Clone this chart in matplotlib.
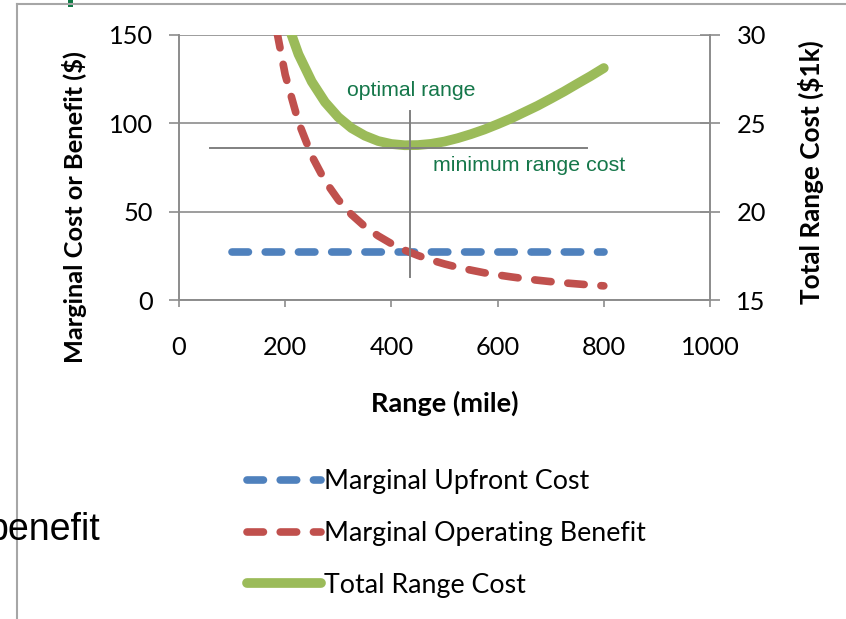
import matplotlib
matplotlib.use("Agg")
import matplotlib.pyplot as plt
from matplotlib.lines import Line2D
from matplotlib.patches import Rectangle

# ranges in miles
range_mi = [100, 125, 150, 175, 200, 225, 250, 275, 300, 325, 350, 375, 400, 425, 450,
            475, 500, 525, 550, 575, 600, 625, 650, 675, 700, 725, 750, 775, 800]

# marginal upfront cost ($ per mile), flat
upfront_cost = [27.4] * len(range_mi)

# marginal operating benefit ($ per mile)
operating_benefit = [510.0, 326.4, 226.7, 166.5, 127.5, 100.7, 81.6, 67.4, 56.7, 48.3, 41.6,
                     36.3, 31.9, 28.2, 25.2, 22.6, 20.4, 18.5, 16.9, 15.4, 14.2, 13.1, 12.1,
                     11.2, 10.4, 9.7, 9.1, 8.5, 8.0]

# total range cost ($1k)
total_cost = [53.3, 43.9, 38.0, 33.91, 31.02, 28.91, 27.36, 26.20, 25.35, 24.73, 24.30,
              24.00, 23.83, 23.76, 23.77, 23.84, 23.97, 24.16, 24.39, 24.65, 24.95, 25.27,
              25.63, 25.99, 26.39, 26.80, 27.24, 27.67, 28.13]

# optimum marker
opt_range = 435
min_cost = 23.6

x_ticks = [0, 200, 400, 600, 800, 1000]
left_ticks = [0, 50, 100, 150]
right_ticks = [15, 20, 25, 30]

blue = '#4F81BD'
red = '#C0504D'
green = '#9BBB59'
note_green = '#15774A'
axis_gray = '#8C8C8C'
font = 'Lato'
tick_size = 18.3

plt.rcParams['font.family'] = [font, 'DejaVu Sans']

fig = plt.figure(figsize=(8.46, 6.19), dpi=100)
ax = fig.add_axes([179/846, 1 - 300/619, (710-179)/846, (300-35)/619])
ax2 = ax.twinx()

ax.set_xlim(0, 1000)
ax.set_ylim(0, 150)
ax2.set_ylim(15, 30)

ax.plot(range_mi, upfront_cost, color=blue, lw=5.5, dashes=(2.15, 2.2),
        dash_capstyle='round', solid_capstyle='round', zorder=3)
ax.plot(range_mi, operating_benefit, color=red, lw=5.5, dashes=(2.15, 2.2),
        dash_capstyle='round', zorder=3)
ax2.plot(range_mi, total_cost, color=green, lw=7, solid_capstyle='round', zorder=3)

# crosshair at the optimum (drawn on the right-hand scale)
ax2.plot([58, 768], [min_cost, min_cost], color='#808080', lw=1.4, zorder=5)
ax2.plot([opt_range, opt_range], [16.3, 25.7], color='#808080', lw=1.4, zorder=5)

ax2.text(316, 26.85, 'optimal range', color=note_green, fontsize=15.3,
         family='Liberation Sans', va='center', ha='left')
ax2.text(478, 22.6, 'minimum range cost', color=note_green, fontsize=15.4,
         family='Liberation Sans', va='center', ha='left')

# axes styling
ax.set_xticks(x_ticks)
ax.set_yticks(left_ticks)
ax2.set_yticks(right_ticks)
ax.yaxis.grid(True, color=axis_gray, lw=1.2)
ax.set_axisbelow(True)
for a in (ax, ax2):
    for s in a.spines.values():
        s.set_color(axis_gray)
        s.set_linewidth(1.2)
    a.spines['top'].set_visible(False)
ax.tick_params(axis='y', direction='out', length=7, width=1.2, color=axis_gray,
               labelsize=tick_size, pad=12)
ax.tick_params(axis='x', direction='out', length=5, width=1.2, color=axis_gray,
               labelsize=tick_size, pad=21)
ax2.tick_params(axis='y', direction='inout', length=14, width=1.2, color=axis_gray,
                labelsize=tick_size, pad=12)

ax.set_xlabel('Range (mile)', fontsize=19.5, fontweight='bold')
ax.set_ylabel('Marginal Cost or Benefit ($)', fontsize=18.3, fontweight='bold')
ax2.set_ylabel('Total Range Cost ($1k)', fontsize=18.8, fontweight='bold')
ax.xaxis.set_label_coords(0.5, -(391-300)/265)
ax.yaxis.set_label_coords(-(179-87)/531, (300-207)/265)
ax2.yaxis.set_label_coords((798-179)/531, (300-172.5)/265)

handles = [
    Line2D([], [], color=blue, lw=5.5, dashes=(2.15, 2.2), dash_capstyle='round'),
    Line2D([], [], color=red, lw=5.5, dashes=(2.15, 2.2), dash_capstyle='round'),
    Line2D([], [], color=green, lw=7, solid_capstyle='round'),
]
labels = ['Marginal Upfront Cost', 'Marginal Operating Benefit', 'Total Range Cost']
fig.legend(handles, labels, loc='upper left', bbox_to_anchor=(223/846, 1 - 445/619),
           frameon=False, fontsize=19.3, handlelength=2.75, handletextpad=0.12,
           labelspacing=1.0)

# slide frame pieces around the chart
fig.add_artist(Line2D([17/846, 1], [1 - 4/619, 1 - 4/619], color='#A6A6A6', lw=1.5))
fig.add_artist(Line2D([17/846, 17/846], [0, 1 - 4/619], color='#A6A6A6', lw=1.5))
fig.add_artist(Rectangle((68/846, 1 - 7/619), 5/846, 7/619, color='#0E7A45', lw=0))
fig.text(100/846, 1 - 540/619, 'benefit', fontsize=27, family='Liberation Sans',
         ha='right', va='baseline')

fig.savefig('out.png', dpi=100)
